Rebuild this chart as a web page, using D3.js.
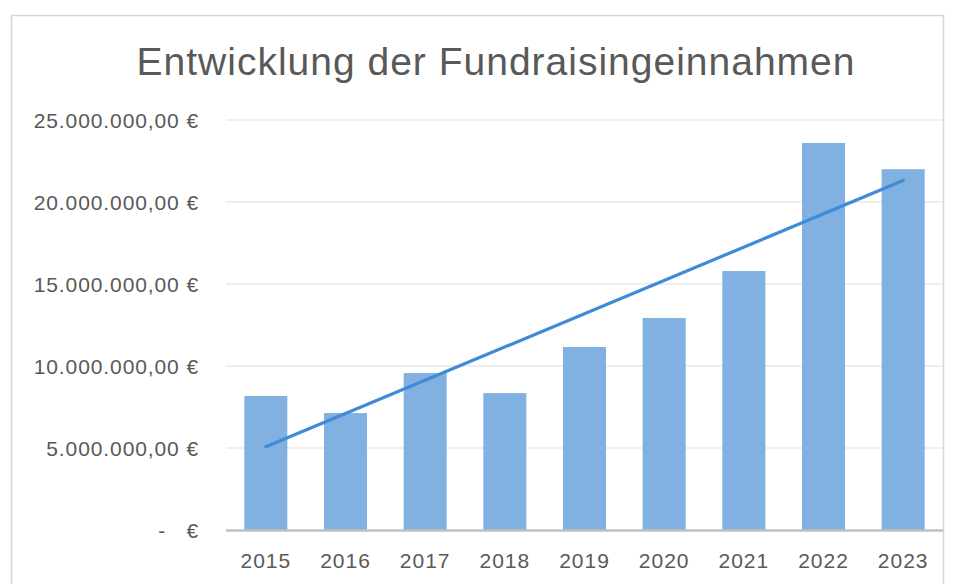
<!DOCTYPE html>
<html>
<head>
<meta charset="utf-8">
<script src="https://cdn.jsdelivr.net/npm/d3@7"></script>
<style>
  html, body { margin: 0; padding: 0; background: #fff; }
  svg { display: block; }
  text { font-family: "Liberation Sans", Arial, sans-serif; fill: #595959; }
</style>
</head>
<body>
<svg id="chart" width="960" height="584"></svg>
<script>
const title = "Entwicklung der Fundraisingeinnahmen";
const years = ["2015", "2016", "2017", "2018", "2019", "2020", "2021", "2022", "2023"];
const revenue = [8170000, 7130000, 9570000, 8350000, 11160000, 12930000, 15790000, 23600000, 22000000];
const yTicks = [0, 5000000, 10000000, 15000000, 20000000, 25000000];

const svg = d3.select("#chart");
const W = 960, H = 584;
const m = { left: 226, right: 943, top: 120, bottom: 530 };

svg.append("rect").attr("width", W).attr("height", H).attr("fill", "#fff");
// chart frame
svg.append("rect")
  .attr("x", 11.5).attr("y", 15.5).attr("width", 932).attr("height", 600)
  .attr("fill", "none").attr("stroke", "#d6d6d6").attr("stroke-width", 1.5);

const x = d3.scaleBand().domain(years).range([m.left, m.right]).paddingInner(0.46).paddingOuter(0.23);
const y = d3.scaleLinear().domain([0, 25000000]).range([m.bottom, m.top]);

// gridlines
svg.append("g").selectAll("line").data(yTicks.filter(d => d > 0)).join("line")
  .attr("x1", m.left).attr("x2", m.right)
  .attr("y1", d => y(d)).attr("y2", d => y(d))
  .attr("stroke", "#e8e8e8").attr("stroke-width", 1.3);

// y axis labels
const fmt = v => {
  if (v === 0) return "-   €";
  const s = d3.format(",.2f")(v);
  return s.replace(/,/g, "#").replace(".", ",").replace(/#/g, ".") + " €";
};
const yAxis = d3.axisLeft(y).tickValues(yTicks).tickFormat(fmt).tickSize(0).tickPadding(0);
const yg = svg.append("g").attr("transform", `translate(199,0)`).call(yAxis);
yg.select(".domain").remove();
yg.selectAll("text")
  .attr("font-size", "21px").attr("fill", "#595959")
  .attr("letter-spacing", "0.9px")
  .style("font-family", "'Liberation Sans', Arial, sans-serif")
  .style("white-space", "pre")
  .attr("dy", "0.36em");

// bars
svg.append("g").selectAll("rect").data(revenue).join("rect")
  .attr("x", (d, i) => x(years[i]))
  .attr("width", x.bandwidth())
  .attr("y", d => y(d))
  .attr("height", d => y(0) - y(d))
  .attr("fill", "#80b1e1");

// linear trendline (least squares over the bars)
const n = revenue.length;
const xs = d3.range(n);
const mx = d3.mean(xs), my = d3.mean(revenue);
const slope = d3.sum(xs, i => (i - mx) * (revenue[i] - my)) / d3.sum(xs, i => (i - mx) ** 2);
const icpt = my - slope * mx;
const trend = [0, n - 1].map(i => [x(years[i]) + x.bandwidth() / 2, y(icpt + slope * i)]);
svg.append("path")
  .attr("d", d3.line()(trend))
  .attr("stroke", "#3f8bd8").attr("stroke-width", 3.2).attr("fill", "none")
  .attr("stroke-linecap", "round");

// x axis
const xAxis = d3.axisBottom(x).tickSize(0).tickPadding(0);
const xg = svg.append("g").attr("transform", `translate(0,${m.bottom})`).call(xAxis);
xg.select(".domain").remove();
xg.selectAll("text")
  .attr("font-size", "21px").attr("fill", "#595959")
  .attr("letter-spacing", "1px")
  .style("font-family", "'Liberation Sans', Arial, sans-serif")
  .attr("y", 38).attr("dy", 0);
svg.append("line")
  .attr("x1", m.left).attr("x2", m.right)
  .attr("y1", m.bottom + 0.5).attr("y2", m.bottom + 0.5)
  .attr("stroke", "#bfbfbf").attr("stroke-width", 2.5);

// title
svg.append("text")
  .attr("x", 496).attr("y", 75)
  .attr("text-anchor", "middle")
  .attr("font-size", "39px")
  .attr("letter-spacing", "1px")
  .attr("fill", "#595959")
  .text(title);
</script>
</body>
</html>
